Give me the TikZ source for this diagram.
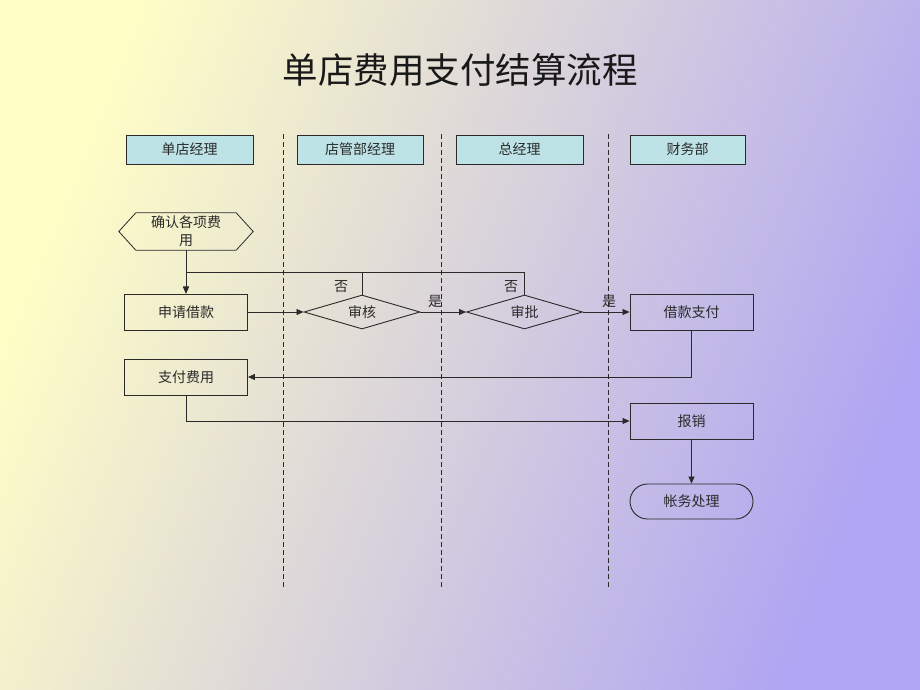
\documentclass[tikz,border=0pt]{standalone}
\usepackage{fontspec}
\newfontfamily\cjk{Noto Sans CJK SC}
\usetikzlibrary{shapes.geometric,arrows.meta,calc}
\definecolor{headfill}{HTML}{BEE3E6}
\definecolor{bgA}{HTML}{FFFEC6}
\definecolor{bgB}{HTML}{B0A5F2}
\definecolor{ink}{HTML}{2A2A2A}
\begin{document}
\begin{tikzpicture}[x=1pt,y=-1pt,
  font=\cjk\fontsize{14}{16}\selectfont,
  lane/.style={draw=ink, fill=headfill, minimum height=29pt, inner sep=0, line width=0.8pt, text=ink},
  procbox/.style={draw=ink, minimum width=123pt, minimum height=36pt, inner sep=0, line width=0.9pt, text=ink},
  decision/.style={diamond, draw=ink, aspect=3.4, minimum width=116pt, minimum height=34pt, inner sep=0, line width=0.9pt, text=ink},
  flow/.style={draw=ink, line width=0.8pt, -{Triangle[length=7pt,width=6pt]}},
  plainline/.style={draw=ink, line width=0.8pt},
  laneline/.style={draw=ink, line width=0.8pt, dash pattern=on 5pt off 3pt},
  lbl/.style={text=ink, inner sep=0}
]
\useasboundingbox (0,0) rectangle (920,690);
\shade[top color=bgA, bottom color=bgB, shading angle=68] (0,0) rectangle (920,690);

% title
\node[text=black!90, font=\cjk\fontsize{35.5}{40}\selectfont] (title) at (460,70) {单店费用支付结算流程};

% lane headers
\node[lane, minimum width=127pt] (h1) at (189.5,149.5) {单店经理};
\node[lane, minimum width=126pt] (h2) at (360,149.5) {店管部经理};
\node[lane, minimum width=127pt] (h3) at (519.5,149.5) {总经理};
\node[lane, minimum width=115pt] (h4) at (687.5,149.5) {财务部};

% lane separators
\coordinate (d1t) at (283,134); \coordinate (d1b) at (283,588);
\coordinate (d2t) at (441,134); \coordinate (d2b) at (441,588);
\coordinate (d3t) at (608,134); \coordinate (d3b) at (608,588);
\draw[laneline] (d1t) -- (d1b);
\draw[laneline] (d2t) -- (d2b);
\draw[laneline] (d3t) -- (d3b);

% hexagon start
\node[minimum width=134pt, minimum height=37pt, inner sep=0, align=center, text=ink, font=\cjk\fontsize{14}{18}\selectfont] (hex) at (186,231.5) {确认各项费\\用};
\draw[plainline] (hex.west) -- ([xshift=17pt]hex.north west) -- ([xshift=-17pt]hex.north east) -- (hex.east) -- ([xshift=-17pt]hex.south east) -- ([xshift=17pt]hex.south west) -- cycle;

% process nodes
\node[procbox] (apply) at (186,312) {申请借款};
\node[decision] (audit) at (362,312) {审核};
\node[decision] (approve) at (524.5,312) {审批};
\node[procbox] (loan) at (691.5,312) {借款支付};
\node[procbox] (pay) at (186,377) {支付费用};
\node[procbox] (reimb) at (691.5,421) {报销};
\node[procbox, rounded corners=17.5pt, minimum height=35pt] (acct) at (691.5,501.5) {帐务处理};

% connectors
\coordinate (loopL) at (186,272);
\draw[flow] (hex.south) -- (apply.north);
\draw[flow] (approve.north) |- (loopL) -- (apply.north);
\draw[plainline] (audit.north) -- (audit.north |- loopL);
\draw[flow] (apply.east) -- (audit.west);
\draw[flow] (audit.east) -- (approve.west);
\draw[flow] (approve.east) -- (loan.west);
\draw[flow] (loan.south) |- (pay.east);
\draw[flow] (pay.south) |- (reimb.west);
\draw[flow] (reimb.south) -- (acct.north);

% labels
\node[lbl] (no1) at (341,287) {否};
\node[lbl] (no2) at (511,287) {否};
\node[lbl] (yes1) at (435,301) {是};
\node[lbl] (yes2) at (609,301) {是};
\end{tikzpicture}
\end{document}
